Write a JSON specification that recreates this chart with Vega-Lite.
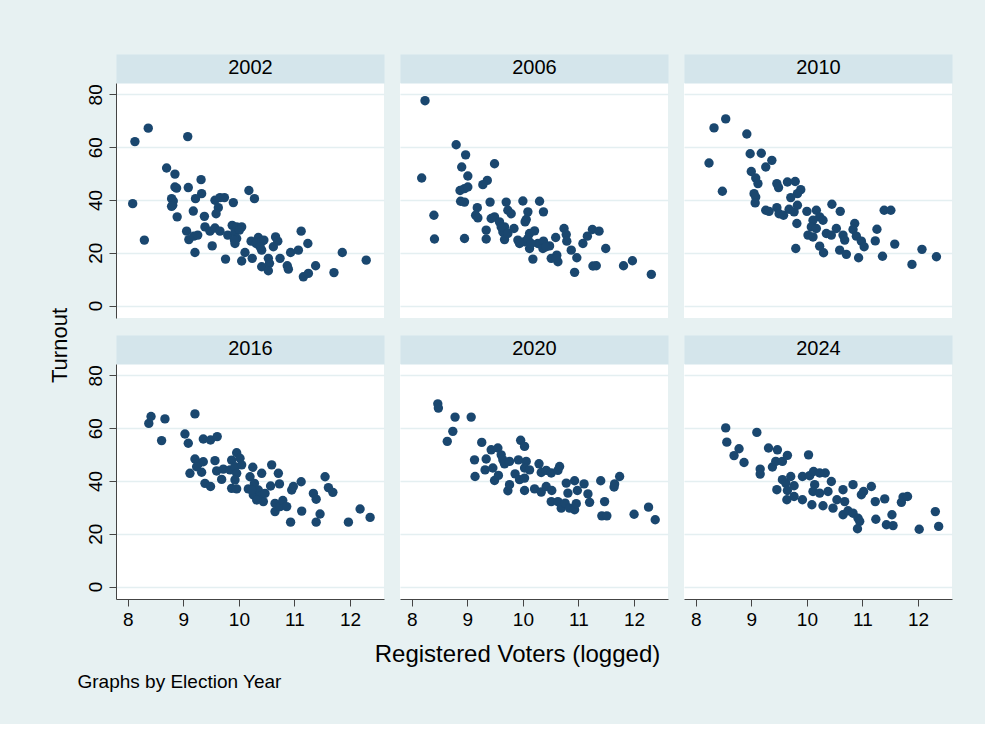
{
"$schema": "https://vega.github.io/schema/vega-lite/v6.json",
"background": "#e7f1f2",
"padding": {"left": 48, "top": 57, "right": 33, "bottom": 33},
"config": {
  "font": "Liberation Sans",
  "view": {"stroke": null},
  "axis": {"labelFont": "Liberation Sans", "titleFont": "Liberation Sans", "labelColor": "black", "titleColor": "black", "domainColor": "#444444", "tickColor": "#444444", "gridColor": "#e4eff1", "gridWidth": 1.5, "labelFontSize": 19, "tickSize": 7, "titleFontWeight": "normal", "domainWidth": 1, "tickWidth": 1}
},
"datasets": {"pts": [
{"year":"2002","voters":8.13,"turnout":62.1},{"year":"2002","voters":8.37,"turnout":67.2},{"year":"2002","voters":8.09,"turnout":38.6},{"year":"2002","voters":8.30,"turnout":24.8},{"year":"2002","voters":9.08,"turnout":64.0},{"year":"2002","voters":8.70,"turnout":52.1},{"year":"2002","voters":8.85,"turnout":49.8},{"year":"2002","voters":8.85,"turnout":44.9},{"year":"2002","voters":8.88,"turnout":44.5},{"year":"2002","voters":8.79,"turnout":40.5},{"year":"2002","voters":8.82,"turnout":39.6},{"year":"2002","voters":8.81,"turnout":38.0},{"year":"2002","voters":8.79,"turnout":37.6},{"year":"2002","voters":8.89,"turnout":33.6},{"year":"2002","voters":9.09,"turnout":44.7},{"year":"2002","voters":9.32,"turnout":47.7},{"year":"2002","voters":9.33,"turnout":42.4},{"year":"2002","voters":9.22,"turnout":40.5},{"year":"2002","voters":9.18,"turnout":35.8},{"year":"2002","voters":9.38,"turnout":33.8},{"year":"2002","voters":9.06,"turnout":28.2},{"year":"2002","voters":9.10,"turnout":25.0},{"year":"2002","voters":9.19,"turnout":26.3},{"year":"2002","voters":9.26,"turnout":26.7},{"year":"2002","voters":9.21,"turnout":20.1},{"year":"2002","voters":9.39,"turnout":29.8},{"year":"2002","voters":9.48,"turnout":28.2},{"year":"2002","voters":9.52,"turnout":22.6},{"year":"2002","voters":9.57,"turnout":29.4},{"year":"2002","voters":9.66,"turnout":28.2},{"year":"2002","voters":9.57,"turnout":39.9},{"year":"2002","voters":9.66,"turnout":40.9},{"year":"2002","voters":9.74,"turnout":40.9},{"year":"2002","voters":9.63,"turnout":37.1},{"year":"2002","voters":9.59,"turnout":34.8},{"year":"2002","voters":9.90,"turnout":39.0},{"year":"2002","voters":9.76,"turnout":17.6},{"year":"2002","voters":9.80,"turnout":26.7},{"year":"2002","voters":9.88,"turnout":30.4},{"year":"2002","voters":9.96,"turnout":29.8},{"year":"2002","voters":10.05,"turnout":29.8},{"year":"2002","voters":9.93,"turnout":27.9},{"year":"2002","voters":10.01,"turnout":28.6},{"year":"2002","voters":9.96,"turnout":25.4},{"year":"2002","voters":9.93,"turnout":23.5},{"year":"2002","voters":9.92,"turnout":24.8},{"year":"2002","voters":10.11,"turnout":20.1},{"year":"2002","voters":10.05,"turnout":16.9},{"year":"2002","voters":10.18,"turnout":43.6},{"year":"2002","voters":10.28,"turnout":40.5},{"year":"2002","voters":10.22,"turnout":24.4},{"year":"2002","voters":10.35,"turnout":25.8},{"year":"2002","voters":10.31,"turnout":23.5},{"year":"2002","voters":10.24,"turnout":17.9},{"year":"2002","voters":10.41,"turnout":24.2},{"year":"2002","voters":10.45,"turnout":24.8},{"year":"2002","voters":10.41,"turnout":21.0},{"year":"2002","voters":10.38,"turnout":22.3},{"year":"2002","voters":10.41,"turnout":14.7},{"year":"2002","voters":10.53,"turnout":17.9},{"year":"2002","voters":10.55,"turnout":16.0},{"year":"2002","voters":10.53,"turnout":13.2},{"year":"2002","voters":10.66,"turnout":26.0},{"year":"2002","voters":10.70,"turnout":24.4},{"year":"2002","voters":10.62,"turnout":22.3},{"year":"2002","voters":10.74,"turnout":17.9},{"year":"2002","voters":10.87,"turnout":15.1},{"year":"2002","voters":10.89,"turnout":13.8},{"year":"2002","voters":10.93,"turnout":20.1},{"year":"2002","voters":11.07,"turnout":21.0},{"year":"2002","voters":11.12,"turnout":28.2},{"year":"2002","voters":11.24,"turnout":23.5},{"year":"2002","voters":11.16,"turnout":10.9},{"year":"2002","voters":11.25,"turnout":12.2},{"year":"2002","voters":11.38,"turnout":15.1},{"year":"2002","voters":11.71,"turnout":12.5},{"year":"2002","voters":11.86,"turnout":20.1},{"year":"2002","voters":12.29,"turnout":17.2},
{"year":"2006","voters":8.24,"turnout":77.6},{"year":"2006","voters":8.18,"turnout":48.3},{"year":"2006","voters":8.40,"turnout":34.2},{"year":"2006","voters":8.41,"turnout":25.2},{"year":"2006","voters":8.80,"turnout":60.9},{"year":"2006","voters":8.97,"turnout":57.1},{"year":"2006","voters":8.90,"turnout":52.5},{"year":"2006","voters":9.01,"turnout":49.1},{"year":"2006","voters":8.87,"turnout":43.6},{"year":"2006","voters":8.95,"turnout":44.3},{"year":"2006","voters":9.01,"turnout":44.9},{"year":"2006","voters":8.88,"turnout":39.5},{"year":"2006","voters":8.95,"turnout":39.2},{"year":"2006","voters":8.95,"turnout":25.4},{"year":"2006","voters":9.49,"turnout":53.7},{"year":"2006","voters":9.36,"turnout":47.4},{"year":"2006","voters":9.28,"turnout":45.8},{"year":"2006","voters":9.41,"turnout":39.2},{"year":"2006","voters":9.18,"turnout":37.1},{"year":"2006","voters":9.15,"turnout":34.2},{"year":"2006","voters":9.19,"turnout":33.2},{"year":"2006","voters":9.34,"turnout":28.6},{"year":"2006","voters":9.34,"turnout":25.2},{"year":"2006","voters":9.43,"turnout":33.0},{"year":"2006","voters":9.49,"turnout":33.6},{"year":"2006","voters":9.58,"turnout":31.7},{"year":"2006","voters":9.70,"turnout":39.2},{"year":"2006","voters":9.73,"turnout":36.1},{"year":"2006","voters":9.79,"turnout":34.8},{"year":"2006","voters":9.67,"turnout":29.8},{"year":"2006","voters":9.64,"turnout":27.9},{"year":"2006","voters":9.67,"turnout":25.0},{"year":"2006","voters":9.84,"turnout":29.2},{"year":"2006","voters":10.00,"turnout":39.6},{"year":"2006","voters":10.09,"turnout":35.5},{"year":"2006","voters":10.06,"turnout":32.6},{"year":"2006","voters":10.04,"turnout":31.7},{"year":"2006","voters":9.91,"turnout":24.8},{"year":"2006","voters":10.03,"turnout":24.2},{"year":"2006","voters":10.12,"turnout":27.3},{"year":"2006","voters":10.21,"turnout":28.3},{"year":"2006","voters":10.09,"turnout":25.4},{"year":"2006","voters":10.12,"turnout":21.6},{"year":"2006","voters":10.18,"turnout":17.6},{"year":"2006","voters":10.30,"turnout":39.5},{"year":"2006","voters":10.37,"turnout":35.5},{"year":"2006","voters":10.27,"turnout":23.5},{"year":"2006","voters":10.37,"turnout":24.4},{"year":"2006","voters":10.36,"turnout":21.6},{"year":"2006","voters":10.48,"turnout":22.6},{"year":"2006","voters":10.59,"turnout":25.8},{"year":"2006","voters":10.51,"turnout":17.9},{"year":"2006","voters":10.61,"turnout":19.1},{"year":"2006","voters":10.63,"turnout":16.6},{"year":"2006","voters":10.74,"turnout":29.2},{"year":"2006","voters":10.78,"turnout":26.9},{"year":"2006","voters":10.79,"turnout":24.4},{"year":"2006","voters":10.87,"turnout":21.0},{"year":"2006","voters":10.97,"turnout":18.1},{"year":"2006","voters":10.93,"turnout":12.6},{"year":"2006","voters":11.08,"turnout":23.5},{"year":"2006","voters":11.16,"turnout":26.3},{"year":"2006","voters":11.25,"turnout":28.8},{"year":"2006","voters":11.37,"turnout":28.2},{"year":"2006","voters":11.49,"turnout":21.6},{"year":"2006","voters":11.26,"turnout":15.0},{"year":"2006","voters":11.32,"turnout":15.1},{"year":"2006","voters":11.81,"turnout":15.1},{"year":"2006","voters":11.97,"turnout":17.0},{"year":"2006","voters":12.31,"turnout":11.8},{"year":"2006","voters":9.61,"turnout":29.8},{"year":"2006","voters":9.73,"turnout":27.3},{"year":"2006","voters":9.94,"turnout":23.5},{"year":"2006","voters":10.15,"turnout":23.5},{"year":"2006","voters":10.42,"turnout":22.3},{"year":"2006","voters":10.60,"turnout":17.9},
{"year":"2010","voters":8.33,"turnout":67.3},{"year":"2010","voters":8.54,"turnout":70.7},{"year":"2010","voters":8.24,"turnout":54.0},{"year":"2010","voters":8.48,"turnout":43.3},{"year":"2010","voters":8.92,"turnout":65.0},{"year":"2010","voters":8.98,"turnout":57.5},{"year":"2010","voters":9.18,"turnout":57.7},{"year":"2010","voters":9.37,"turnout":55.0},{"year":"2010","voters":9.26,"turnout":52.5},{"year":"2010","voters":9.00,"turnout":50.8},{"year":"2010","voters":9.08,"turnout":48.3},{"year":"2010","voters":9.12,"turnout":46.2},{"year":"2010","voters":9.05,"turnout":42.4},{"year":"2010","voters":9.08,"turnout":41.1},{"year":"2010","voters":9.07,"turnout":38.9},{"year":"2010","voters":9.46,"turnout":46.2},{"year":"2010","voters":9.49,"turnout":44.7},{"year":"2010","voters":9.65,"turnout":46.8},{"year":"2010","voters":9.79,"turnout":47.0},{"year":"2010","voters":9.89,"turnout":43.9},{"year":"2010","voters":9.83,"turnout":42.4},{"year":"2010","voters":9.71,"turnout":40.9},{"year":"2010","voters":9.26,"turnout":36.1},{"year":"2010","voters":9.32,"turnout":35.7},{"year":"2010","voters":9.46,"turnout":37.1},{"year":"2010","voters":9.50,"turnout":34.8},{"year":"2010","voters":9.58,"turnout":34.2},{"year":"2010","voters":9.68,"turnout":36.5},{"year":"2010","voters":9.77,"turnout":35.5},{"year":"2010","voters":9.83,"turnout":38.0},{"year":"2010","voters":9.82,"turnout":31.1},{"year":"2010","voters":9.80,"turnout":21.6},{"year":"2010","voters":10.00,"turnout":35.7},{"year":"2010","voters":10.17,"turnout":36.1},{"year":"2010","voters":10.23,"turnout":33.6},{"year":"2010","voters":10.11,"turnout":32.3},{"year":"2010","voters":10.29,"turnout":32.3},{"year":"2010","voters":10.08,"turnout":29.8},{"year":"2010","voters":10.17,"turnout":29.2},{"year":"2010","voters":10.02,"turnout":26.7},{"year":"2010","voters":10.11,"turnout":26.0},{"year":"2010","voters":10.23,"turnout":22.5},{"year":"2010","voters":10.30,"turnout":20.0},{"year":"2010","voters":10.45,"turnout":38.4},{"year":"2010","voters":10.60,"turnout":35.7},{"year":"2010","voters":10.35,"turnout":27.3},{"year":"2010","voters":10.53,"turnout":29.2},{"year":"2010","voters":10.44,"turnout":26.7},{"year":"2010","voters":10.65,"turnout":26.7},{"year":"2010","voters":10.59,"turnout":21.0},{"year":"2010","voters":10.71,"turnout":19.4},{"year":"2010","voters":10.86,"turnout":31.1},{"year":"2010","voters":10.83,"turnout":28.8},{"year":"2010","voters":10.89,"turnout":26.3},{"year":"2010","voters":10.98,"turnout":24.4},{"year":"2010","voters":11.03,"turnout":22.3},{"year":"2010","voters":10.93,"turnout":18.1},{"year":"2010","voters":10.68,"turnout":24.8},{"year":"2010","voters":11.26,"turnout":28.9},{"year":"2010","voters":11.23,"turnout":24.5},{"year":"2010","voters":11.39,"turnout":36.1},{"year":"2010","voters":11.51,"turnout":36.1},{"year":"2010","voters":11.36,"turnout":18.7},{"year":"2010","voters":11.58,"turnout":23.3},{"year":"2010","voters":11.89,"turnout":15.6},{"year":"2010","voters":12.07,"turnout":21.3},{"year":"2010","voters":12.33,"turnout":18.5},
{"year":"2016","voters":8.38,"turnout":61.8},{"year":"2016","voters":8.42,"turnout":64.4},{"year":"2016","voters":8.61,"turnout":55.3},{"year":"2016","voters":8.67,"turnout":63.5},{"year":"2016","voters":9.03,"turnout":57.8},{"year":"2016","voters":9.09,"turnout":54.3},{"year":"2016","voters":9.21,"turnout":65.4},{"year":"2016","voters":9.12,"turnout":42.9},{"year":"2016","voters":9.21,"turnout":48.3},{"year":"2016","voters":9.28,"turnout":46.7},{"year":"2016","voters":9.36,"turnout":47.3},{"year":"2016","voters":9.33,"turnout":43.3},{"year":"2016","voters":9.24,"turnout":45.4},{"year":"2016","voters":9.36,"turnout":55.9},{"year":"2016","voters":9.49,"turnout":55.5},{"year":"2016","voters":9.61,"turnout":56.8},{"year":"2016","voters":9.39,"turnout":39.1},{"year":"2016","voters":9.49,"turnout":37.9},{"year":"2016","voters":9.57,"turnout":47.7},{"year":"2016","voters":9.60,"turnout":43.8},{"year":"2016","voters":9.69,"turnout":40.6},{"year":"2016","voters":9.72,"turnout":44.5},{"year":"2016","voters":9.84,"turnout":44.2},{"year":"2016","voters":9.87,"turnout":47.9},{"year":"2016","voters":9.96,"turnout":50.7},{"year":"2016","voters":10.02,"turnout":48.6},{"year":"2016","voters":9.93,"turnout":45.4},{"year":"2016","voters":10.05,"turnout":46.1},{"year":"2016","voters":9.96,"turnout":42.9},{"year":"2016","voters":9.87,"turnout":37.2},{"year":"2016","voters":9.96,"turnout":37.0},{"year":"2016","voters":9.93,"turnout":40.4},{"year":"2016","voters":10.25,"turnout":45.2},{"year":"2016","voters":10.20,"turnout":41.6},{"year":"2016","voters":10.17,"turnout":37.0},{"year":"2016","voters":10.26,"turnout":34.7},{"year":"2016","voters":10.28,"turnout":39.1},{"year":"2016","voters":10.35,"turnout":36.6},{"year":"2016","voters":10.38,"turnout":34.1},{"year":"2016","voters":10.41,"turnout":42.9},{"year":"2016","voters":10.44,"turnout":32.2},{"year":"2016","voters":10.32,"turnout":32.8},{"year":"2016","voters":10.47,"turnout":35.3},{"year":"2016","voters":10.23,"turnout":36.6},{"year":"2016","voters":10.59,"turnout":46.1},{"year":"2016","voters":10.71,"turnout":42.9},{"year":"2016","voters":10.57,"turnout":38.1},{"year":"2016","voters":10.73,"turnout":38.9},{"year":"2016","voters":10.65,"turnout":31.5},{"year":"2016","voters":10.65,"turnout":28.4},{"year":"2016","voters":10.74,"turnout":30.3},{"year":"2016","voters":10.79,"turnout":32.6},{"year":"2016","voters":10.86,"turnout":30.3},{"year":"2016","voters":10.95,"turnout":36.6},{"year":"2016","voters":10.98,"turnout":37.9},{"year":"2016","voters":11.12,"turnout":39.7},{"year":"2016","voters":10.93,"turnout":24.4},{"year":"2016","voters":11.13,"turnout":28.6},{"year":"2016","voters":11.34,"turnout":35.3},{"year":"2016","voters":11.39,"turnout":33.1},{"year":"2016","voters":11.46,"turnout":27.5},{"year":"2016","voters":11.39,"turnout":24.4},{"year":"2016","voters":11.55,"turnout":41.6},{"year":"2016","voters":11.61,"turnout":37.5},{"year":"2016","voters":11.69,"turnout":35.7},{"year":"2016","voters":11.97,"turnout":24.4},{"year":"2016","voters":12.18,"turnout":29.4},{"year":"2016","voters":12.36,"turnout":26.2},
{"year":"2020","voters":8.47,"turnout":69.2},{"year":"2020","voters":8.48,"turnout":67.6},{"year":"2020","voters":8.78,"turnout":64.2},{"year":"2020","voters":9.07,"turnout":64.2},{"year":"2020","voters":8.74,"turnout":58.8},{"year":"2020","voters":8.64,"turnout":55.0},{"year":"2020","voters":9.26,"turnout":54.6},{"year":"2020","voters":9.13,"turnout":48.0},{"year":"2020","voters":9.14,"turnout":41.7},{"year":"2020","voters":9.34,"turnout":48.3},{"year":"2020","voters":9.32,"turnout":44.2},{"year":"2020","voters":9.43,"turnout":51.8},{"year":"2020","voters":9.55,"turnout":52.5},{"year":"2020","voters":9.46,"turnout":44.9},{"year":"2020","voters":9.49,"turnout":40.2},{"year":"2020","voters":9.56,"turnout":42.1},{"year":"2020","voters":9.64,"turnout":48.0},{"year":"2020","voters":9.67,"turnout":46.5},{"year":"2020","voters":9.76,"turnout":47.4},{"year":"2020","voters":9.61,"turnout":49.9},{"year":"2020","voters":9.73,"turnout":36.3},{"year":"2020","voters":9.76,"turnout":38.6},{"year":"2020","voters":9.96,"turnout":55.4},{"year":"2020","voters":10.03,"turnout":53.1},{"year":"2020","voters":9.92,"turnout":48.0},{"year":"2020","voters":10.06,"turnout":47.4},{"year":"2020","voters":9.86,"turnout":42.7},{"year":"2020","voters":9.94,"turnout":40.5},{"year":"2020","voters":10.03,"turnout":41.1},{"year":"2020","voters":10.03,"turnout":44.9},{"year":"2020","voters":10.12,"turnout":44.2},{"year":"2020","voters":10.03,"turnout":36.4},{"year":"2020","voters":10.29,"turnout":46.5},{"year":"2020","voters":10.33,"turnout":43.2},{"year":"2020","voters":10.42,"turnout":44.0},{"year":"2020","voters":10.51,"turnout":43.0},{"year":"2020","voters":10.66,"turnout":45.5},{"year":"2020","voters":10.63,"turnout":44.0},{"year":"2020","voters":10.21,"turnout":37.0},{"year":"2020","voters":10.33,"turnout":35.8},{"year":"2020","voters":10.42,"turnout":37.9},{"year":"2020","voters":10.52,"turnout":36.4},{"year":"2020","voters":10.51,"turnout":32.2},{"year":"2020","voters":10.63,"turnout":32.2},{"year":"2020","voters":10.69,"turnout":29.7},{"year":"2020","voters":10.78,"turnout":39.2},{"year":"2020","voters":10.81,"turnout":35.4},{"year":"2020","voters":10.93,"turnout":40.1},{"year":"2020","voters":10.98,"turnout":36.4},{"year":"2020","voters":10.76,"turnout":31.6},{"year":"2020","voters":10.84,"turnout":29.7},{"year":"2020","voters":10.93,"turnout":29.1},{"year":"2020","voters":10.96,"turnout":31.4},{"year":"2020","voters":11.10,"turnout":38.9},{"year":"2020","voters":11.17,"turnout":35.1},{"year":"2020","voters":11.20,"turnout":31.9},{"year":"2020","voters":11.40,"turnout":40.1},{"year":"2020","voters":11.47,"turnout":32.2},{"year":"2020","voters":11.42,"turnout":26.8},{"year":"2020","voters":11.51,"turnout":26.8},{"year":"2020","voters":11.64,"turnout":37.7},{"year":"2020","voters":11.65,"turnout":38.9},{"year":"2020","voters":11.74,"turnout":41.7},{"year":"2020","voters":12.00,"turnout":27.4},{"year":"2020","voters":12.26,"turnout":30.1},{"year":"2020","voters":12.38,"turnout":25.3},
{"year":"2024","voters":8.54,"turnout":60.1},{"year":"2024","voters":8.56,"turnout":54.7},{"year":"2024","voters":8.78,"turnout":52.2},{"year":"2024","voters":8.69,"turnout":49.6},{"year":"2024","voters":8.87,"turnout":47.0},{"year":"2024","voters":9.10,"turnout":58.4},{"year":"2024","voters":9.16,"turnout":44.5},{"year":"2024","voters":9.16,"turnout":42.6},{"year":"2024","voters":9.31,"turnout":52.5},{"year":"2024","voters":9.47,"turnout":51.8},{"year":"2024","voters":9.38,"turnout":45.3},{"year":"2024","voters":9.44,"turnout":47.4},{"year":"2024","voters":9.56,"turnout":47.4},{"year":"2024","voters":9.65,"turnout":49.7},{"year":"2024","voters":9.46,"turnout":36.7},{"year":"2024","voters":9.56,"turnout":40.5},{"year":"2024","voters":9.62,"turnout":39.2},{"year":"2024","voters":9.71,"turnout":41.7},{"year":"2024","voters":9.65,"turnout":36.4},{"year":"2024","voters":9.64,"turnout":32.9},{"year":"2024","voters":9.77,"turnout":38.2},{"year":"2024","voters":9.77,"turnout":34.1},{"year":"2024","voters":9.92,"turnout":32.9},{"year":"2024","voters":9.92,"turnout":41.7},{"year":"2024","voters":10.03,"turnout":49.9},{"year":"2024","voters":10.05,"turnout":42.0},{"year":"2024","voters":10.12,"turnout":43.6},{"year":"2024","voters":10.23,"turnout":43.0},{"year":"2024","voters":10.33,"turnout":43.0},{"year":"2024","voters":10.14,"turnout":38.6},{"year":"2024","voters":10.11,"turnout":36.0},{"year":"2024","voters":10.09,"turnout":31.0},{"year":"2024","voters":10.23,"turnout":35.4},{"year":"2024","voters":10.29,"turnout":30.6},{"year":"2024","voters":10.38,"turnout":36.0},{"year":"2024","voters":10.44,"turnout":39.8},{"year":"2024","voters":10.47,"turnout":29.7},{"year":"2024","voters":10.54,"turnout":32.9},{"year":"2024","voters":10.65,"turnout":36.7},{"year":"2024","voters":10.68,"turnout":32.2},{"year":"2024","voters":10.65,"turnout":27.2},{"year":"2024","voters":10.74,"turnout":28.7},{"year":"2024","voters":10.83,"turnout":38.6},{"year":"2024","voters":10.83,"turnout":27.8},{"year":"2024","voters":10.92,"turnout":25.9},{"year":"2024","voters":10.95,"turnout":24.7},{"year":"2024","voters":10.91,"turnout":21.9},{"year":"2024","voters":10.98,"turnout":34.8},{"year":"2024","voters":11.02,"turnout":36.0},{"year":"2024","voters":11.16,"turnout":37.9},{"year":"2024","voters":11.23,"turnout":32.2},{"year":"2024","voters":11.40,"turnout":33.2},{"year":"2024","voters":11.24,"turnout":25.5},{"year":"2024","voters":11.43,"turnout":23.4},{"year":"2024","voters":11.55,"turnout":23.1},{"year":"2024","voters":11.53,"turnout":27.2},{"year":"2024","voters":11.70,"turnout":31.9},{"year":"2024","voters":11.73,"turnout":33.9},{"year":"2024","voters":11.81,"turnout":34.1},{"year":"2024","voters":12.02,"turnout":21.7},{"year":"2024","voters":12.31,"turnout":28.4},{"year":"2024","voters":12.37,"turnout":22.8}
]},
"columns": 3,
"bounds": "flush",
"spacing": {"row": 46, "column": 16},
"concat": [
 {"width": 268, "height": 235, "view": {"fill": "white", "stroke": null}, "data": {"name": "pts"}, "transform": [{"filter": "datum.year == '2002'"}],
  "mark": {"type": "circle", "size": 88, "color": "#1a476f", "opacity": 1},
  "encoding": {
   "x": {"field": "voters", "type": "quantitative", "scale": {"domain": [7.79, 12.61], "nice": false, "zero": false}, "axis": {"orient": "top", "title": "2002", "domain": true, "domainWidth": 29, "domainColor": "#d4e5eb", "domainCap": "butt", "offset": 14.5, "ticks": false, "labels": false, "grid": false, "titleFontSize": 20, "titleX": 134, "titleY": -1, "titleAlign": "center", "titleBaseline": "middle", "titlePadding": 0}},
   "y": {"field": "turnout", "type": "quantitative", "scale": {"domain": [-4.7, 84.3], "nice": false, "zero": false}, "axis": {"values": [0, 20, 40, 60, 80], "grid": true, "labelAngle": -90, "labelAlign": "center", "labelBaseline": "middle", "labelPadding": 14, "title": "Turnout", "titleFontSize": 22, "titleAngle": -90, "titleX": -57, "titleY": 262, "titleAlign": "center", "titleBaseline": "middle"}}
  }},
 {"width": 268, "height": 235, "view": {"fill": "white", "stroke": null}, "data": {"name": "pts"}, "transform": [{"filter": "datum.year == '2006'"}],
  "mark": {"type": "circle", "size": 88, "color": "#1a476f", "opacity": 1},
  "encoding": {
   "x": {"field": "voters", "type": "quantitative", "scale": {"domain": [7.79, 12.61], "nice": false, "zero": false}, "axis": {"orient": "top", "title": "2006", "domain": true, "domainWidth": 29, "domainColor": "#d4e5eb", "domainCap": "butt", "offset": 14.5, "ticks": false, "labels": false, "grid": false, "titleFontSize": 20, "titleX": 134, "titleY": -1, "titleAlign": "center", "titleBaseline": "middle", "titlePadding": 0}},
   "y": {"field": "turnout", "type": "quantitative", "scale": {"domain": [-4.7, 84.3], "nice": false, "zero": false}, "axis": {"values": [0, 20, 40, 60, 80], "grid": true, "domain": false, "ticks": false, "labels": false, "title": null}}
  }},
 {"width": 268, "height": 235, "view": {"fill": "white", "stroke": null}, "data": {"name": "pts"}, "transform": [{"filter": "datum.year == '2010'"}],
  "mark": {"type": "circle", "size": 88, "color": "#1a476f", "opacity": 1},
  "encoding": {
   "x": {"field": "voters", "type": "quantitative", "scale": {"domain": [7.79, 12.61], "nice": false, "zero": false}, "axis": {"orient": "top", "title": "2010", "domain": true, "domainWidth": 29, "domainColor": "#d4e5eb", "domainCap": "butt", "offset": 14.5, "ticks": false, "labels": false, "grid": false, "titleFontSize": 20, "titleX": 134, "titleY": -1, "titleAlign": "center", "titleBaseline": "middle", "titlePadding": 0}},
   "y": {"field": "turnout", "type": "quantitative", "scale": {"domain": [-4.7, 84.3], "nice": false, "zero": false}, "axis": {"values": [0, 20, 40, 60, 80], "grid": true, "domain": false, "ticks": false, "labels": false, "title": null}}
  }},
 {"width": 268, "height": 235, "view": {"fill": "white", "stroke": null}, "data": {"name": "pts"}, "transform": [{"filter": "datum.year == '2016'"}],
  "layer": [
   {"mark": {"type": "circle", "size": 88, "color": "#1a476f", "opacity": 1},
    "encoding": {
     "x": {"field": "voters", "type": "quantitative", "scale": {"domain": [7.79, 12.61], "nice": false, "zero": false}, "axis": {"values": [8, 9, 10, 11, 12], "grid": false, "labelPadding": 4, "title": "Graphs by Election Year", "titleFontSize": 19, "titleX": -39, "titleY": 82, "titleAlign": "left", "titleAnchor": "start", "titleBaseline": "middle"}},
     "y": {"field": "turnout", "type": "quantitative", "scale": {"domain": [-4.7, 84.3], "nice": false, "zero": false}, "axis": {"values": [0, 20, 40, 60, 80], "grid": true, "labelAngle": -90, "labelAlign": "center", "labelBaseline": "middle", "labelPadding": 14, "title": null}}
    }},
   {"mark": {"type": "circle", "opacity": 0},
    "encoding": {
     "x": {"field": "voters", "type": "quantitative", "axis": {"orient": "top", "title": "2016", "domain": true, "domainWidth": 29, "domainColor": "#d4e5eb", "domainCap": "butt", "offset": 14.5, "ticks": false, "labels": false, "grid": false, "titleFontSize": 20, "titleX": 134, "titleY": -1, "titleAlign": "center", "titleBaseline": "middle", "titlePadding": 0}}
    }}
  ],
  "resolve": {"axis": {"x": "independent"}}},
 {"width": 268, "height": 235, "view": {"fill": "white", "stroke": null}, "data": {"name": "pts"}, "transform": [{"filter": "datum.year == '2020'"}],
  "layer": [
   {"mark": {"type": "circle", "size": 88, "color": "#1a476f", "opacity": 1},
    "encoding": {
     "x": {"field": "voters", "type": "quantitative", "scale": {"domain": [7.79, 12.61], "nice": false, "zero": false}, "axis": {"values": [8, 9, 10, 11, 12], "grid": false, "labelPadding": 4, "title": "Registered Voters (logged)", "titleFontSize": 24, "titleX": 117, "titleY": 55, "titleAlign": "center", "titleBaseline": "middle"}},
     "y": {"field": "turnout", "type": "quantitative", "scale": {"domain": [-4.7, 84.3], "nice": false, "zero": false}, "axis": {"values": [0, 20, 40, 60, 80], "grid": true, "domain": false, "ticks": false, "labels": false, "title": null}}
    }},
   {"mark": {"type": "circle", "opacity": 0},
    "encoding": {
     "x": {"field": "voters", "type": "quantitative", "axis": {"orient": "top", "title": "2020", "domain": true, "domainWidth": 29, "domainColor": "#d4e5eb", "domainCap": "butt", "offset": 14.5, "ticks": false, "labels": false, "grid": false, "titleFontSize": 20, "titleX": 134, "titleY": -1, "titleAlign": "center", "titleBaseline": "middle", "titlePadding": 0}}
    }}
  ],
  "resolve": {"axis": {"x": "independent"}}},
 {"width": 268, "height": 235, "view": {"fill": "white", "stroke": null}, "data": {"name": "pts"}, "transform": [{"filter": "datum.year == '2024'"}],
  "layer": [
   {"mark": {"type": "circle", "size": 88, "color": "#1a476f", "opacity": 1},
    "encoding": {
     "x": {"field": "voters", "type": "quantitative", "scale": {"domain": [7.79, 12.61], "nice": false, "zero": false}, "axis": {"values": [8, 9, 10, 11, 12], "grid": false, "labelPadding": 4, "title": null}},
     "y": {"field": "turnout", "type": "quantitative", "scale": {"domain": [-4.7, 84.3], "nice": false, "zero": false}, "axis": {"values": [0, 20, 40, 60, 80], "grid": true, "domain": false, "ticks": false, "labels": false, "title": null}}
    }},
   {"mark": {"type": "circle", "opacity": 0},
    "encoding": {
     "x": {"field": "voters", "type": "quantitative", "axis": {"orient": "top", "title": "2024", "domain": true, "domainWidth": 29, "domainColor": "#d4e5eb", "domainCap": "butt", "offset": 14.5, "ticks": false, "labels": false, "grid": false, "titleFontSize": 20, "titleX": 134, "titleY": -1, "titleAlign": "center", "titleBaseline": "middle", "titlePadding": 0}}
    }}
  ],
  "resolve": {"axis": {"x": "independent"}}}
]
}
